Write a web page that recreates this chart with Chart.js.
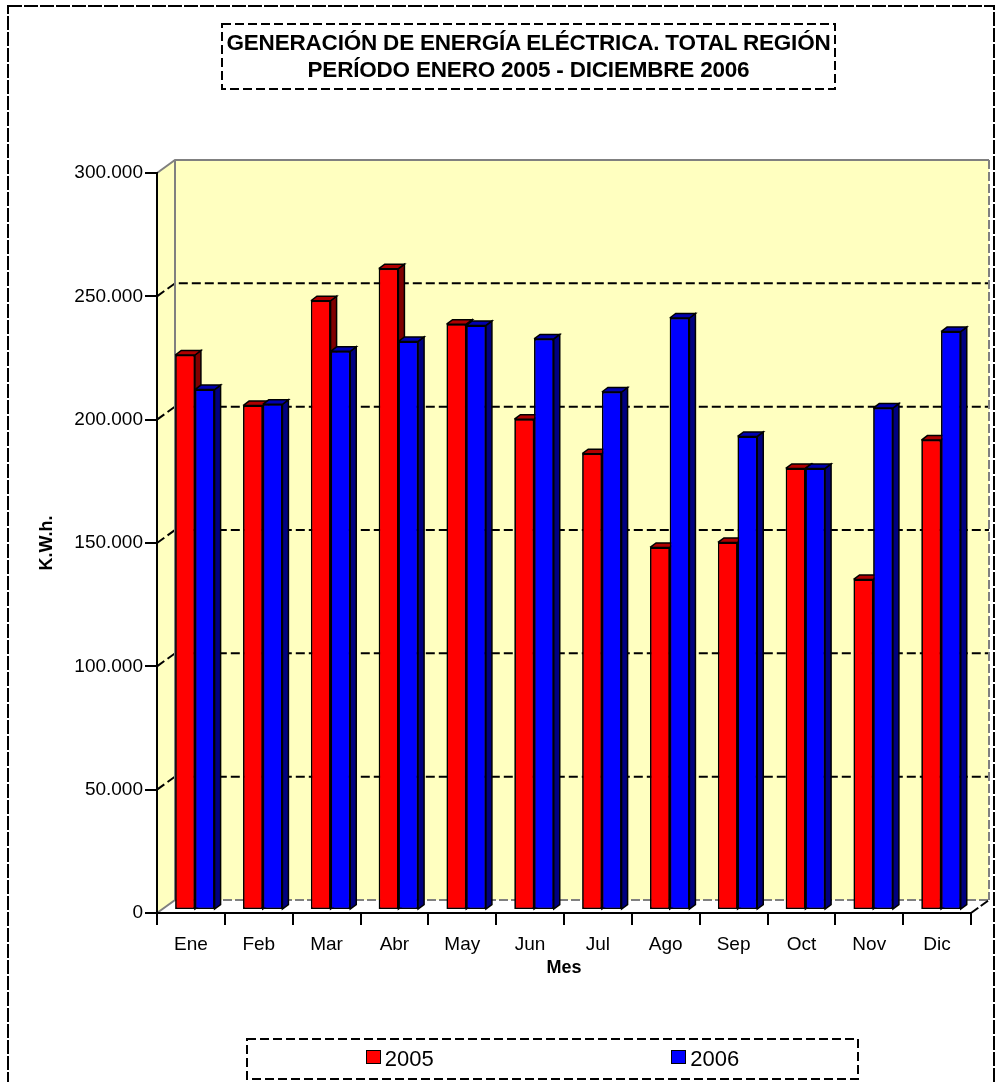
<!DOCTYPE html>
<html lang="es">
<head>
<meta charset="utf-8">
<title>Generación de energía eléctrica</title>
<script src="https://cdn.jsdelivr.net/npm/chart.js@4/dist/chart.umd.min.js"></script>
<style>
  html, body { margin: 0; padding: 0; background: #fff; }
  body { font-family: "Liberation Sans", Arial, sans-serif; color: #000; }
  #wrap { position: relative; width: 996px; height: 1082px; overflow: hidden; }
  #chart { position: absolute; left: 0; top: 0; }
  #title {
    position: absolute; left: 222px; top: 24px; width: 613px; height: 65px;
    text-align: center; font-weight: bold; font-size: 22.5px; line-height: 27px;
    padding-top: 5px; box-sizing: border-box; white-space: nowrap; letter-spacing: -0.2px;
  }
  #legend {
    position: absolute; left: 247px; top: 1039px; width: 611px; height: 40px;
    display: flex; justify-content: space-around; align-items: center;
    font-size: 22px;
  }
  .item { display: flex; align-items: center; }
  .swatch { width: 13px; height: 12px; border: 1.5px solid #000; margin-right: 4px; margin-top: -4px; }
</style>
</head>
<body>
<div id="wrap">
  <canvas id="chart" width="996" height="1082"></canvas>
  <div id="title"></div>
  <div id="legend"></div>
</div>
<script>
const titleLines = ['GENERACIÓN DE ENERGÍA ELÉCTRICA. TOTAL REGIÓN', 'PERÍODO ENERO 2005 - DICIEMBRE 2006'];
const months = ['Ene', 'Feb', 'Mar', 'Abr', 'May', 'Jun', 'Jul', 'Ago', 'Sep', 'Oct', 'Nov', 'Dic'];
const gen2005 = [225000, 204500, 247000, 260000, 237500, 199000, 185000, 147000, 149000, 179000, 134000, 190500];
const gen2006 = [211000, 205000, 226500, 230500, 237000, 231500, 210000, 240000, 192000, 179000, 203500, 234500];
const yMin = 0, yMax = 300000, yStep = 50000;

// depth of the 3d box and of the bars
const DX = 18, DY = -13;
const BX = 6, BY = -4.5;
const BAR_SHIFT = [4, -3];
const WALL = '#FFFFC0';

const faces = [
  { side: '#800000', top: '#B00000' },
  { side: '#000080', top: '#0000B0' }
];

function fmt(v) {
  return String(v).replace(/\B(?=(\d{3})+(?!\d))/g, '.');
}

function line(ctx, pts, color, width, dash) {
  ctx.beginPath();
  ctx.moveTo(pts[0][0], pts[0][1]);
  for (let i = 1; i < pts.length; i++) ctx.lineTo(pts[i][0], pts[i][1]);
  ctx.strokeStyle = color;
  ctx.lineWidth = width;
  ctx.setLineDash(dash || []);
  ctx.stroke();
}

function poly(ctx, pts, fill) {
  ctx.beginPath();
  ctx.moveTo(pts[0][0], pts[0][1]);
  for (let i = 1; i < pts.length; i++) ctx.lineTo(pts[i][0], pts[i][1]);
  ctx.closePath();
  ctx.fillStyle = fill;
  ctx.fill();
}

const box3d = {
  id: 'box3d',
  beforeDraw(chart) {
    const { ctx, chartArea: a, scales: { y } } = chart;
    const L = a.left, R = a.right, T = a.top, B = a.bottom;
    ctx.save();
    ctx.fillStyle = '#fff';
    ctx.fillRect(0, 0, chart.width, chart.height);

    // outer frame, title frame, legend frame
    ctx.lineWidth = 2;
    ctx.strokeStyle = '#000';
    ctx.setLineDash([14, 2]);
    ctx.strokeRect(8, 6, 986, 1090);
    ctx.setLineDash([9, 4]);
    ctx.strokeRect(222, 24, 613, 65);
    ctx.strokeRect(247, 1039, 611, 40);

    // walls
    poly(ctx, [[L, B], [L, T], [L + DX, T + DY], [L + DX, B + DY]], WALL);
    ctx.fillStyle = WALL;
    ctx.fillRect(L + DX, T + DY, R - L, B - T);

    // grid on side and back wall
    y.ticks.forEach(t => {
      if (t.value === yMin || t.value === yMax) return;
      const py = y.getPixelForValue(t.value);
      line(ctx, [[L, py], [L + DX, py + DY], [R + DX, py + DY]], '#000', 2, [9, 4]);
    });

    // box edges
    line(ctx, [[L, T], [L + DX, T + DY], [R + DX, T + DY]], '#808080', 2);
    line(ctx, [[L + DX, T + DY], [L + DX, B + DY], [L, B]], '#808080', 2);
    line(ctx, [[R + DX, T + DY], [R + DX, B + DY]], '#808080', 2, [9, 3]);
    line(ctx, [[L + DX, B + DY], [R + DX, B + DY]], '#808080', 2, [9, 3]);
    line(ctx, [[R, B], [R + DX, B + DY]], '#000', 2, [9, 3]);
    ctx.restore();
  },
  beforeDatasetDraw(chart) {
    chart.ctx.save();
    chart.ctx.translate(BAR_SHIFT[0], BAR_SHIFT[1]);
  },
  afterDatasetDraw(chart) {
    chart.ctx.restore();
  },
  // Chart.js paints the last dataset first, so repaint fronts and faces
  // series by series to let the 2006 bars sit over the 2005 side faces
  afterDatasetsDraw(chart) {
    const ctx = chart.ctx;
    ctx.save();
    ctx.translate(BAR_SHIFT[0], BAR_SHIFT[1]);
    chart.data.datasets.forEach((ds, i) => {
      const f = faces[i];
      chart.getDatasetMeta(i).data.forEach(bar => {
        bar.draw(ctx);
        const { x, y, base, width } = bar.getProps(['x', 'y', 'base', 'width'], true);
        const l = x - width / 2, r = x + width / 2;
        const side = [[r, y], [r + BX, y + BY], [r + BX, base + BY], [r, base]];
        const top = [[l, y], [l + BX, y + BY], [r + BX, y + BY], [r, y]];
        poly(ctx, side, f.side);
        line(ctx, side.concat([side[0]]), '#000', 1.5);
        poly(ctx, top, f.top);
        line(ctx, top.concat([top[0]]), '#000', 1.5);
        ctx.setLineDash([]);
      });
    });
    ctx.restore();
  }
};

const chart = new Chart(document.getElementById('chart'), {
  type: 'bar',
  data: {
    labels: months,
    datasets: [
      { label: '2005', data: gen2005, backgroundColor: '#FF0000', borderColor: '#000', borderWidth: 1.5, borderSkipped: false },
      { label: '2006', data: gen2006, backgroundColor: '#0000FF', borderColor: '#000', borderWidth: 1.5, borderSkipped: false }
    ]
  },
  options: {
    responsive: false,
    animation: false,
    devicePixelRatio: 1,
    layout: { padding: { left: 0, top: 173, right: 25, bottom: 0 } },
    datasets: { bar: { categoryPercentage: 0.58, barPercentage: 1, clip: false } },
    plugins: { legend: { display: false }, title: { display: false }, tooltip: { enabled: false } },
    scales: {
      x: {
        afterFit: s => { s.height = 169; },
        grid: { drawOnChartArea: false, drawTicks: true, tickLength: 12, color: '#000', lineWidth: 2, offset: true },
        border: { display: true, color: '#000', width: 2, dash: [9, 3] },
        ticks: { color: '#000', padding: 8, font: { family: 'Liberation Sans, Arial', size: 19 } },
        title: { display: true, text: 'Mes', color: '#000', padding: { top: 0, bottom: 103 },
                 font: { family: 'Liberation Sans, Arial', size: 18, weight: 'bold' } }
      },
      y: {
        min: yMin,
        max: yMax,
        afterFit: s => { s.width = 157; },
        grid: { drawOnChartArea: false, drawTicks: true, tickLength: 12, color: '#000', lineWidth: 2 },
        border: { display: true, color: '#000', width: 2, dash: [9, 3] },
        ticks: { stepSize: yStep, color: '#000', padding: 2, callback: v => fmt(v),
                 font: { family: 'Liberation Sans, Arial', size: 19 } },
        title: { display: true, text: 'K.W.h.', color: '#000', padding: { top: 36, bottom: 0 },
                 font: { family: 'Liberation Sans, Arial', size: 18, weight: 'bold' } }
      }
    }
  },
  plugins: [box3d]
});

document.getElementById('title').innerHTML = titleLines.join('<br>');
const legend = document.getElementById('legend');
chart.data.datasets.forEach(ds => {
  const item = document.createElement('div');
  item.className = 'item';
  const sw = document.createElement('span');
  sw.className = 'swatch';
  sw.style.background = ds.backgroundColor;
  const txt = document.createElement('span');
  txt.textContent = ds.label;
  item.appendChild(sw);
  item.appendChild(txt);
  legend.appendChild(item);
});
</script>
</body>
</html>
